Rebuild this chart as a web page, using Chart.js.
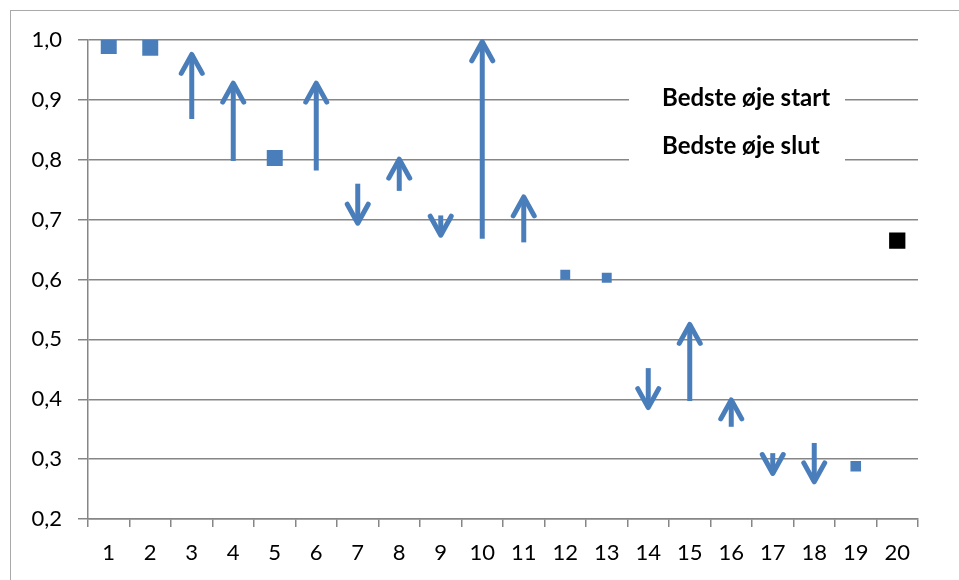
<!DOCTYPE html>
<html>
<head>
<meta charset="utf-8">
<script src="https://cdn.jsdelivr.net/npm/chart.js@4/dist/chart.umd.min.js"></script>
<style>
  html, body { margin: 0; padding: 0; background: #fff; }
  #wrap { position: relative; width: 959px; height: 580px; overflow: hidden; }
  #frame { position: absolute; left: 10px; top: 10px; width: 1000px; height: 1000px;
           border: 1.5px solid #a9a9a9; box-sizing: border-box; }
  #c { position: absolute; left: 0; top: 0; }
</style>
</head>
<body>
<div id="wrap">
  <div id="frame"></div>
  <canvas id="c" width="959" height="580"></canvas>
</div>
<script>
// Patients 1-20: best-eye score at start and at end
const categories = ['1','2','3','4','5','6','7','8','9','10','11','12','13','14','15','16','17','18','19','20'];
const startValues = [0.99, 0.987, 0.868, 0.798, 0.803, 0.782, 0.76, 0.748, 0.707, 0.668, 0.662, 0.608, 0.603, 0.452, 0.397, 0.354, 0.31, 0.327, 0.288, 0.665];
const endValues   = [0.99, 0.987, 0.976, 0.928, 0.803, 0.928, 0.694, 0.801, 0.674, 0.997, 0.738, 0.608, 0.603, 0.386, 0.525, 0.399, 0.276, 0.262, 0.288, 0.665];
const yTicks = ['0,2','0,3','0,4','0,5','0,6','0,7','0,8','0,9','1,0'];

const BLUE = '#4a7ebb';
const GRID = '#868686';
const FONT = 'Lato, "Open Sans", sans-serif';

// Arrow from the start value to the end value of each patient
const arrowPlugin = {
  id: 'arrows',
  afterDatasetsDraw(chart) {
    const s = chart.getDatasetMeta(0).data;
    const e = chart.getDatasetMeta(1).data;
    const ctx = chart.ctx;
    ctx.save();
    ctx.strokeStyle = BLUE;
    ctx.lineWidth = 5;
    for (let i = 0; i < s.length; i++) {
      if (startValues[i] === endValues[i]) continue;
      const x = s[i].x, y0 = s[i].y, y1 = e[i].y;
      const dir = Math.sign(y1 - y0);
      ctx.lineCap = 'butt';
      ctx.beginPath();
      ctx.moveTo(x, y0);
      ctx.lineTo(x, y1);
      ctx.stroke();
      ctx.lineCap = 'round';
      ctx.lineJoin = 'round';
      ctx.beginPath();
      ctx.moveTo(x - 10.5, y1 - dir * 19);
      ctx.lineTo(x, y1);
      ctx.lineTo(x + 10.5, y1 - dir * 19);
      ctx.stroke();
    }
    ctx.restore();
  }
};

// Legend box inside the plot area
const legendBox = {
  id: 'legendBox',
  beforeDatasetsDraw(chart) {
    const ctx = chart.ctx;
    ctx.save();
    ctx.fillStyle = '#fff';
    ctx.fillRect(629, 80, 216, 92);
    ctx.fillStyle = '#000';
    ctx.font = 'bold 24px ' + FONT;
    ctx.textBaseline = 'alphabetic';
    ctx.textAlign = 'left';
    ctx.fillText(chart.data.datasets[0].label, 662, 106);
    ctx.fillText(chart.data.datasets[1].label, 662, 154);
    ctx.restore();
  }
};

new Chart(document.getElementById('c'), {
  type: 'line',
  data: {
    labels: categories,
    datasets: [
      {
        label: 'Bedste øje start',
        data: startValues,
        showLine: false,
        pointStyle: 'rect',
        pointRadius: [11.3, 11.3, 0, 0, 11.3, 0, 0, 0, 0, 0, 0, 7, 7, 0, 0, 0, 0, 0, 7.5, 11.5],
        pointBackgroundColor: categories.map((c, i) => i === 19 ? '#000' : BLUE),
        pointBorderWidth: 0
      },
      {
        label: 'Bedste øje slut',
        data: endValues,
        showLine: false,
        pointRadius: 0
      }
    ]
  },
  options: {
    responsive: false,
    animation: false,
    events: [],
    layout: { padding: { left: 0, top: 40, right: 41, bottom: 0 } },
    plugins: { legend: { display: false }, tooltip: { enabled: false } },
    scales: {
      x: {
        offset: true,
        afterFit(scale) { scale.height = 61; },
        grid: { offset: true, drawOnChartArea: false, color: GRID, lineWidth: 1.5, tickLength: 8 },
        border: { color: GRID, width: 1.5 },
        ticks: { color: '#000', font: { family: FONT, size: 22 }, padding: 13, maxRotation: 0, autoSkip: false }
      },
      y: {
        min: 0.2,
        max: 1.0,
        afterFit(scale) { scale.width = 88; },
        afterBuildTicks(scale) {
          scale.ticks = yTicks.map(t => ({ value: parseFloat(t.replace(',', '.')) }));
        },
        grid: { color: GRID, lineWidth: 1.5, tickLength: 10 },
        border: { color: GRID, width: 1.5 },
        ticks: {
          color: '#000',
          font: { family: FONT, size: 22 },
          padding: 16,
          callback: (v) => yTicks.find(t => Math.abs(parseFloat(t.replace(',', '.')) - v) < 1e-6)
        }
      }
    }
  },
  plugins: [legendBox, arrowPlugin]
});
</script>
</body>
</html>
